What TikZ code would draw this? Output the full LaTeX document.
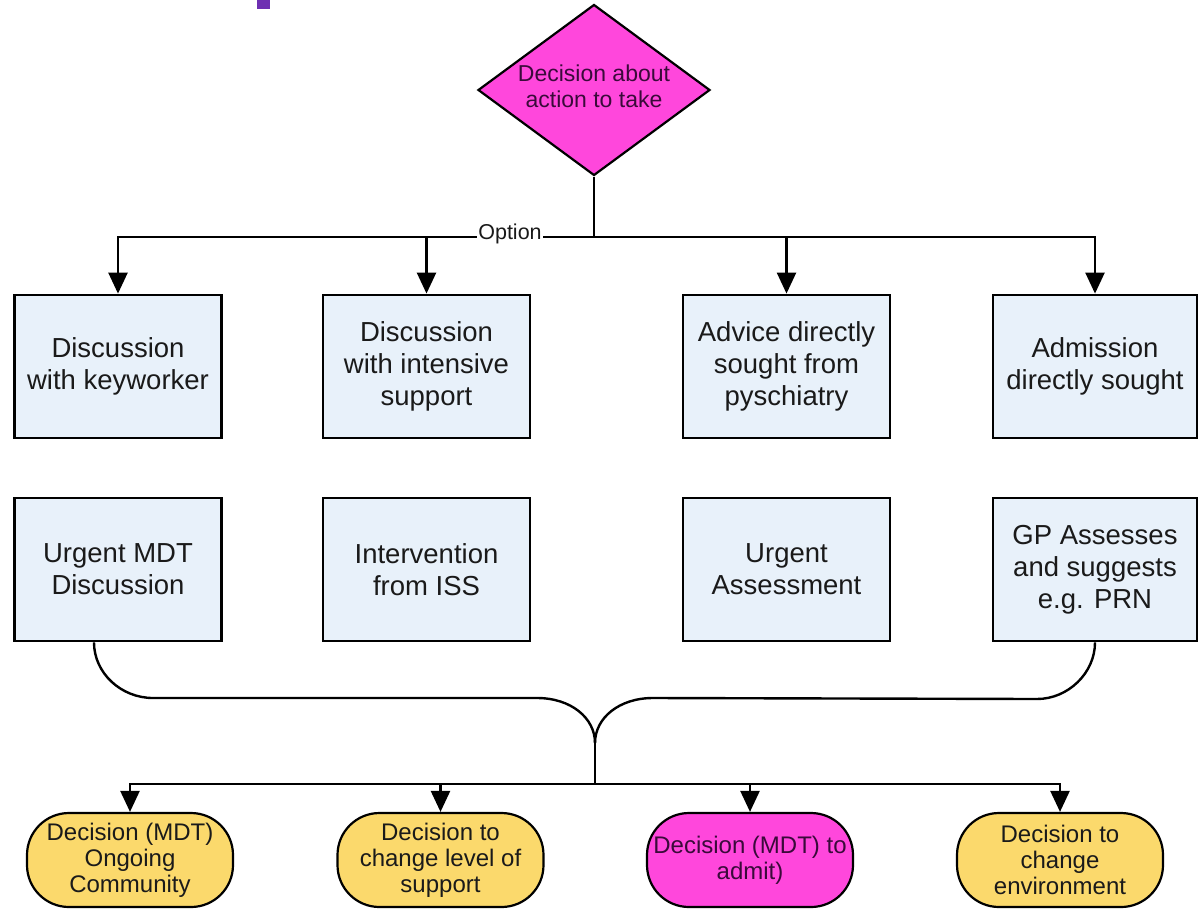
\documentclass[tikz,border=0pt]{standalone}
\usepackage{fontspec}
\setmainfont{Liberation Sans}
\usetikzlibrary{shapes.geometric,arrows.meta}

\definecolor{magentafill}{HTML}{FF47DC}
\definecolor{magentatext}{HTML}{3A0A3A}
\definecolor{yellowfill}{HTML}{FBD96C}
\definecolor{bluefill}{HTML}{E8F1FA}
\definecolor{markpurple}{HTML}{6E2FB2}
\definecolor{inktext}{HTML}{1A1A1A}

\tikzset{
  link/.style={line width=2.4pt, draw=black},
  arr/.style={link, -{Triangle[width=19pt 0,length=21pt 0]}},
  optionbox/.style={draw=black, line width=2.8pt, fill=bluefill, text=inktext,
    minimum width=207pt, minimum height=143pt, align=center, inner sep=2pt,
    font=\fontsize{27.5}{32}\selectfont},
  decisionpill/.style={draw=black, line width=2.2pt, rounded corners=42pt,
    minimum width=206pt, minimum height=94pt, align=center, inner sep=1pt,
    font=\fontsize{24}{26}\selectfont},
  yellowpill/.style={decisionpill, fill=yellowfill, text=inktext},
  magentapill/.style={decisionpill, fill=magentafill, text=magentatext},
}

\begin{document}
\begin{tikzpicture}[x=1pt,y=-1pt]
  \useasboundingbox (0,0) rectangle (1198,910);
  \fill[white] (0,0) rectangle (1198,910);

  % small purple tab at the top edge
  \fill[markpurple] (257,0) rectangle (270,9);

  % top decision
  \node[diamond, draw=black, line width=2.2pt, fill=magentafill,
        minimum width=232pt, minimum height=171pt, inner sep=0pt, shape aspect=1.36]
        (dec) at (594,90) {};
  \node[text=magentatext, align=center, font=\fontsize{23}{26}\selectfont]
        (dectext) at (594,86) {Decision about\\action to take};

  % first row of options
  \node[optionbox] (b1) at (118,366.5) {Discussion\\with keyworker};
  \node[optionbox] (b2) at (426.5,366.5) {Discussion\\with intensive\\support};
  \node[optionbox] (b3) at (786.5,366.5) {Advice directly\\sought from\\pyschiatry};
  \node[optionbox, minimum width=204pt] (b4) at (1095,366.5) {Admission\\directly sought};

  % second row
  \node[optionbox] (c1) at (118,569.5) {Urgent MDT\\Discussion};
  \node[optionbox] (c2) at (426.5,569.5) {Intervention\\from ISS};
  \node[optionbox] (c3) at (786.5,569.5) {Urgent\\Assessment};
  \node[optionbox, minimum width=204pt] (c4) at (1095,569.5) {GP Assesses\\and suggests\\e.g. PRN};

  % outcomes
  \node[yellowpill] (d1) at (130,860) {Decision (MDT)\\Ongoing\\Community};
  \node[yellowpill] (d2) at (440.5,860) {Decision to\\change level of\\support};
  \node[magentapill] (d3) at (750,860) {Decision (MDT) to\\admit)};
  \node[yellowpill] (d4) at (1060,860) {Decision to\\change\\environment};

  % branching from the decision
  \coordinate (j1) at (594,237);
  \draw[link] (dec.south) -- (j1);
  \draw[arr] (j1) -| (b1.north);
  \draw[arr] (j1) -| (b2.north);
  \draw[arr] (j1) -| (b3.north);
  \draw[arr] (j1) -| (b4.north);
  \node[fill=white, inner sep=1pt, text=inktext, font=\fontsize{21.5}{22}\selectfont]
        (opt) at (510,234) {Option};

  % merging brace
  \coordinate (m) at (595,743);
  \coordinate (j2) at (595,784);
  \draw[link] ([xshift=-24pt]c1.south) .. controls (94,673) and (121,698) .. (153,698)
        -- (537,698) .. controls (571,698) and (595,718) .. (m);
  \draw[link] (c4.south) .. controls (1095,673) and (1068,699) .. (1037,699)
        -- (653,698) .. controls (619,698) and (595,718) .. (m);
  \draw[link] (m) -- (j2);

  % outcome arrows
  \draw[arr] (j2) -| (d1.north);
  \draw[arr] (j2) -| (d2.north);
  \draw[arr] (j2) -| (d3.north);
  \draw[arr] (j2) -| (d4.north);
\end{tikzpicture}
\end{document}
